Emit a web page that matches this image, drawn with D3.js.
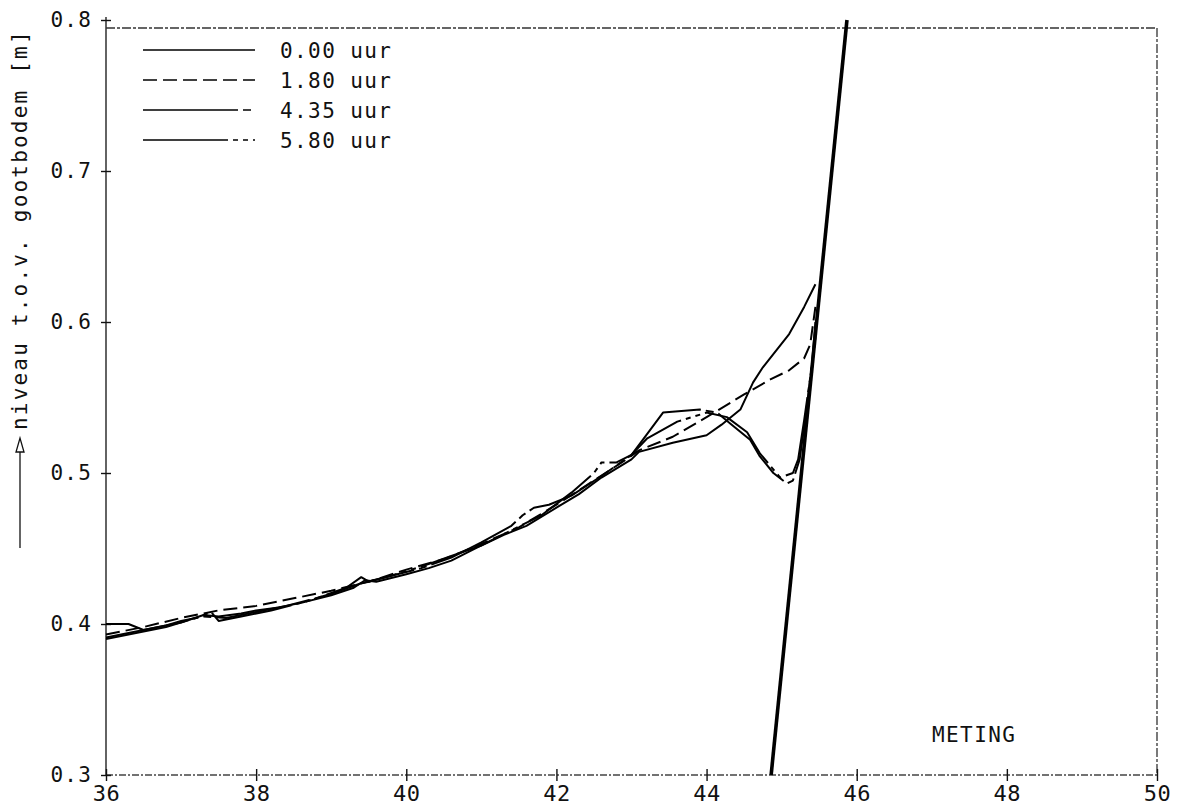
<!DOCTYPE html>
<html>
<head>
<meta charset="utf-8">
<script src="https://cdnjs.cloudflare.com/ajax/libs/d3/7.8.5/d3.min.js"></script>
<style>
  html, body { margin: 0; padding: 0; background: #fff; }
  svg { display: block; }
  text { font-family: "DejaVu Sans Mono", "Liberation Mono", monospace; fill: #111; }
</style>
</head>
<body>
<svg id="chart" width="1180" height="808"></svg>
<script>
// ---- data ----
const xTicks = [36, 38, 40, 42, 44, 46, 48, 50];
const yTicks = [0.3, 0.4, 0.5, 0.6, 0.7, 0.8];
const yTickLabels = ["0.3", "0.4", "0.5", "0.6", "0.7", "0.8"];
const seriesNames = ["0.00 uur", "1.80 uur", "4.35 uur", "5.80 uur"];

// 0.00 uur
const s0x = [36.0, 36.3, 36.6, 37.0, 37.3, 37.5, 37.8, 38.0, 38.3, 38.6, 39.0, 39.3, 39.45, 39.6, 40.0, 40.3, 40.6, 41.0, 41.3, 41.6, 42.0, 42.3, 42.6, 43.0, 43.1, 43.55, 44.0, 44.2, 44.45, 44.62, 44.75, 45.1, 45.3, 45.45];
const s0y = [0.391, 0.394, 0.397, 0.401, 0.406, 0.405, 0.407, 0.409, 0.411, 0.414, 0.419, 0.424, 0.429, 0.428, 0.433, 0.437, 0.442, 0.452, 0.459, 0.465, 0.477, 0.486, 0.497, 0.509, 0.514, 0.520, 0.525, 0.532, 0.542, 0.560, 0.570, 0.592, 0.610, 0.625];
// 1.80 uur
const s1x = [36.0, 36.5, 37.0, 37.5, 38.0, 38.5, 39.0, 39.5, 40.0, 40.5, 41.0, 41.5, 42.0, 42.5, 42.9, 43.1, 43.55, 44.0, 44.5, 44.85, 45.1, 45.3, 45.38, 45.45];
const s1y = [0.393, 0.398, 0.404, 0.409, 0.412, 0.417, 0.422, 0.428, 0.436, 0.443, 0.453, 0.464, 0.479, 0.495, 0.508, 0.515, 0.524, 0.537, 0.552, 0.562, 0.568, 0.576, 0.585, 0.610];
// 4.35 uur
const s2x = [36.0, 36.3, 36.5, 36.8, 37.0, 37.3, 37.6, 38.0, 38.4, 38.8, 39.2, 39.4, 39.5, 39.8, 40.2, 40.6, 41.0, 41.4, 41.55, 41.7, 41.9, 42.2, 42.6, 43.0, 43.15, 43.42, 43.91, 44.14, 44.31, 44.58, 44.71, 44.89, 45.07, 45.15, 45.24, 45.3, 45.4, 45.45];
const s2y = [0.400, 0.400, 0.396, 0.399, 0.402, 0.405, 0.404, 0.408, 0.412, 0.417, 0.424, 0.431, 0.428, 0.432, 0.437, 0.444, 0.454, 0.465, 0.472, 0.477, 0.479, 0.485, 0.498, 0.512, 0.522, 0.540, 0.542, 0.540, 0.533, 0.522, 0.511, 0.500, 0.493, 0.495, 0.509, 0.530, 0.570, 0.600];
// 5.80 uur
const s3x = [36.0, 36.4, 36.8, 37.2, 37.4, 37.5, 37.8, 38.2, 38.6, 39.0, 39.4, 39.8, 40.2, 40.6, 41.0, 41.4, 41.8, 42.2, 42.5, 42.6, 42.8, 43.0, 43.21, 43.61, 44.0, 44.27, 44.54, 44.71, 44.98, 45.15, 45.22, 45.3, 45.4, 45.45];
const s3y = [0.390, 0.394, 0.398, 0.404, 0.408, 0.402, 0.405, 0.409, 0.414, 0.420, 0.427, 0.432, 0.438, 0.445, 0.452, 0.462, 0.472, 0.487, 0.500, 0.507, 0.507, 0.512, 0.523, 0.534, 0.540, 0.537, 0.527, 0.513, 0.497, 0.500, 0.509, 0.535, 0.570, 0.590];

// sloping wall (thick line)
const wallX = [44.86, 45.87];
const wallY = [0.3, 0.8];

// ---- chart ----
const svg = d3.select("#chart");
const x = d3.scaleLinear().domain([36, 50]).range([106, 1157]);
const y = d3.scaleLinear().domain([0.3, 0.8]).range([775, 20]);

const dashes = [null, "14,6", "95,5,8,5", "85,5,5,5,5,5"];
const series = [
  {name: seriesNames[0], xs: s0x, ys: s0y, dash: dashes[0]},
  {name: seriesNames[1], xs: s1x, ys: s1y, dash: dashes[1]},
  {name: seriesNames[2], xs: s2x, ys: s2y, dash: dashes[2]},
  {name: seriesNames[3], xs: s3x, ys: s3y, dash: dashes[3]}
];

// frame
const frame = svg.append("g");
frame.append("line").attr("x1", x(36)).attr("x2", x(36)).attr("y1", y(0.8) - 3).attr("y2", y(0.3))
  .attr("stroke", "#222").attr("stroke-width", 1.4);
frame.append("line").attr("x1", x(36)).attr("x2", x(50)).attr("y1", y(0.8) + 8).attr("y2", y(0.8) + 8)
  .attr("stroke", "#333").attr("stroke-width", 1.3).attr("stroke-dasharray", "9,2,3,2");
frame.append("line").attr("x1", x(50)).attr("x2", x(50)).attr("y1", y(0.8) + 8).attr("y2", y(0.3))
  .attr("stroke", "#333").attr("stroke-width", 1.3).attr("stroke-dasharray", "9,2,3,2");
frame.append("line").attr("x1", x(36)).attr("x2", x(50)).attr("y1", y(0.3)).attr("y2", y(0.3))
  .attr("stroke", "#444").attr("stroke-width", 1.3).attr("stroke-dasharray", "7,2,2,2");

// y axis
const yAxis = d3.axisLeft(y).tickValues(yTicks).tickFormat((d, i) => yTickLabels[i]).tickSize(5).tickPadding(9);
const gy = svg.append("g").attr("transform", `translate(${x(36)},0)`).call(yAxis);
gy.select(".domain").remove();
gy.selectAll(".tick line").attr("x1", -5).attr("x2", 5).attr("stroke", "#111").attr("stroke-width", 1.4);
gy.selectAll(".tick text").attr("font-size", 21).attr("letter-spacing", 1.2)
  .attr("font-family", "DejaVu Sans Mono").attr("fill", "#111");

// x axis
const xAxis = d3.axisBottom(x).tickValues(xTicks).tickFormat(d3.format("d")).tickSize(6).tickPadding(4);
const gx = svg.append("g").attr("transform", `translate(0,${y(0.3)})`).call(xAxis);
gx.select(".domain").remove();
gx.selectAll(".tick line").attr("y1", -6).attr("y2", 6).attr("stroke", "#111").attr("stroke-width", 1.4);
gx.selectAll(".tick text").attr("font-size", 22).attr("letter-spacing", 0.5)
  .attr("font-family", "DejaVu Sans Mono").attr("fill", "#111");

// wall line
const line = d3.line().x(d => x(d[0])).y(d => y(d[1]));
svg.append("path").datum(d3.zip(wallX, wallY)).attr("d", line)
  .attr("fill", "none").attr("stroke", "#000").attr("stroke-width", 3.6);

// series
svg.append("g").selectAll("path").data(series).join("path")
  .attr("d", s => line(d3.zip(s.xs, s.ys)))
  .attr("fill", "none").attr("stroke", "#000").attr("stroke-width", 2)
  .attr("stroke-linejoin", "round")
  .attr("stroke-dasharray", s => s.dash);

// legend
const lg = svg.append("g");
series.forEach((s, i) => {
  const ly = 50 + i * 30;
  lg.append("line").attr("x1", 143).attr("x2", 255).attr("y1", ly).attr("y2", ly)
    .attr("stroke", "#000").attr("stroke-width", 1.7).attr("stroke-dasharray", s.dash);
  lg.append("text").attr("x", 280).attr("y", ly + 8).attr("font-size", 21).attr("letter-spacing", 1.4)
    .text(s.name);
});

// METING
svg.append("text").attr("x", 932).attr("y", 742).attr("font-size", 21).attr("letter-spacing", 1.4).text("METING");

// y axis title with arrow
const yt = svg.append("g").attr("transform", "translate(20,0)");
yt.append("line").attr("x1", 0).attr("x2", 0).attr("y1", 548).attr("y2", 452).attr("stroke", "#111").attr("stroke-width", 1.3);
yt.append("path").attr("d", "M-4,452 L4,452 L0,438 Z").attr("fill", "#fff").attr("stroke", "#111").attr("stroke-width", 1.3);
yt.append("text").attr("transform", "translate(7,430) rotate(-90)").attr("font-size", 21).attr("letter-spacing", 2.2)
  .text("niveau t.o.v. gootbodem [m]");
</script>
</body>
</html>
